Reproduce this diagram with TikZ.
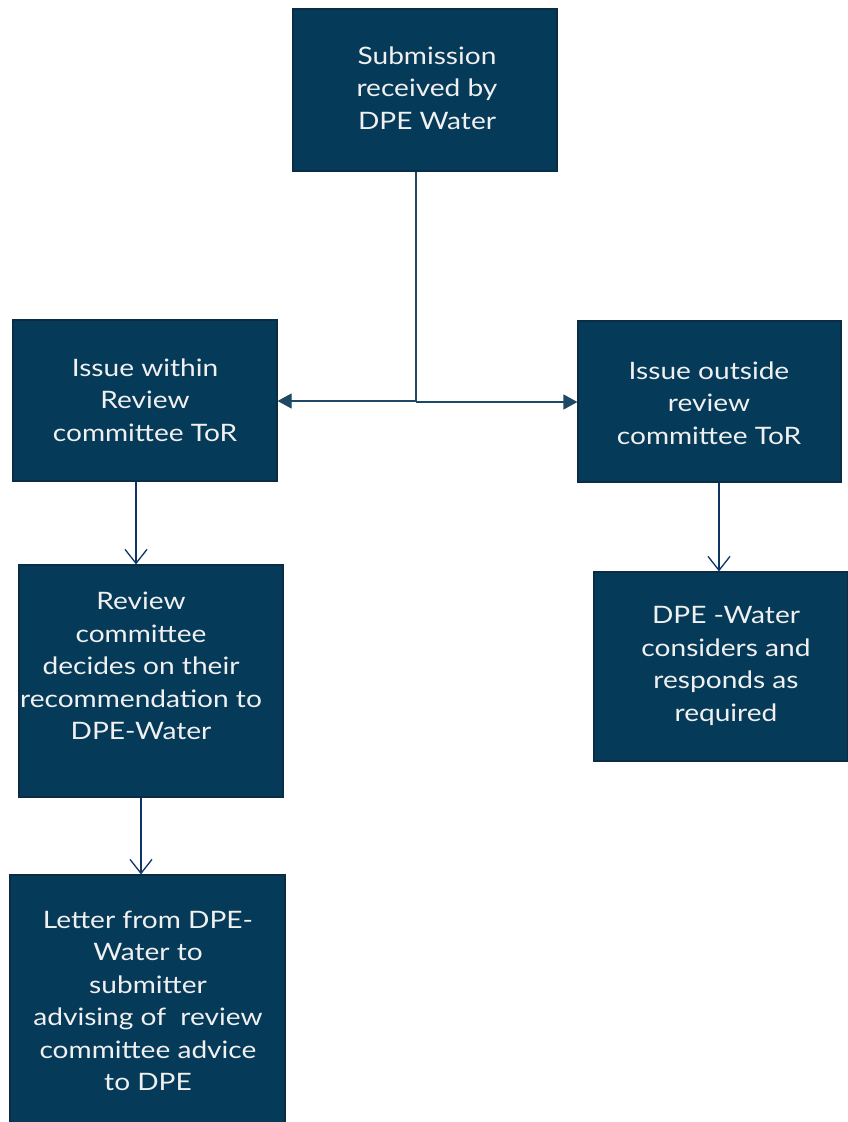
\documentclass[tikz,border=0pt]{standalone}
\usepackage{fontspec}
\setmainfont{Lato}[FakeStretch=1.17]
\usetikzlibrary{arrows.meta}
\definecolor{boxfill}{HTML}{063A59}
\definecolor{boxline}{HTML}{0A2C44}
\definecolor{arrowA}{HTML}{0D3566}
\definecolor{arrowB}{HTML}{1D4866}
\tikzset{
  box/.style={draw=boxline, fill=boxfill, line width=1.2pt, inner sep=0pt},
  label/.style={text=white!94!black, align=center, inner sep=0pt, font=\fontsize{24}{32.5}\selectfont},
  vline/.style={draw=arrowA, line width=1.3pt, -{Straight Barb[length=14pt,width=22pt,line width=1.3pt]}},
  hline/.style={draw=arrowB, line width=1.2pt},
  harrow/.style={hline, -{Triangle[length=14pt,width=15pt]}}
}
\begin{document}
\begin{tikzpicture}[x=1pt,y=-1pt]
\useasboundingbox (0,0) rectangle (847,1122);
% boxes
\node[box, minimum width=264pt, minimum height=162pt] (top) at (425,90) {};
\node[box, minimum width=264pt, minimum height=161pt] (L1) at (145,400.5) {};
\node[box, minimum width=263pt, minimum height=161pt] (R1) at (709.5,401.5) {};
\node[box, minimum width=264pt, minimum height=232pt] (L2) at (151,681) {};
\node[box, minimum width=254pt, minimum height=189pt] (R2) at (721,666.5) {};
\node[box, minimum width=275pt, minimum height=248pt] (L3) at (147.5,999) {};
% texts
\node[label] (ttop) at (427,88) {Submission\\received by\\DPE Water};
\node[label] (tL1) at (145,400) {Issue within\\Review\\committee ToR};
\node[label] (tR1) at (709,403) {Issue outside\\review\\committee ToR};
\node[label] (tL2) at (141,666) {Review\\committee\\decides on their\\recommendation to\\DPE-Water};
\node[label] (tR2) at (726,666) {DPE -Water\\considers and\\responds as\\required};
\node[label] (tL3) at (148,1001) {Letter from DPE-\\Water to\\submitter\\advising of\ \ review\\committee advice\\to DPE};
% connectors
\coordinate (j) at (416,401);
\coordinate (a1) at (136,0);
\coordinate (a2) at (719,0);
\coordinate (a3) at (141,0);
\draw[hline] (j |- top.south) -- (j);
\draw[harrow] (j) -- (j -| L1.east);
\draw[harrow] (416,402) -- (R1.west |- 0,402);
\draw[vline] (a1 |- L1.south) -- (a1 |- L2.north);
\draw[vline] (a2 |- R1.south) -- (a2 |- R2.north);
\draw[vline] (a3 |- L2.south) -- (a3 |- L3.north);
\end{tikzpicture}
\end{document}
